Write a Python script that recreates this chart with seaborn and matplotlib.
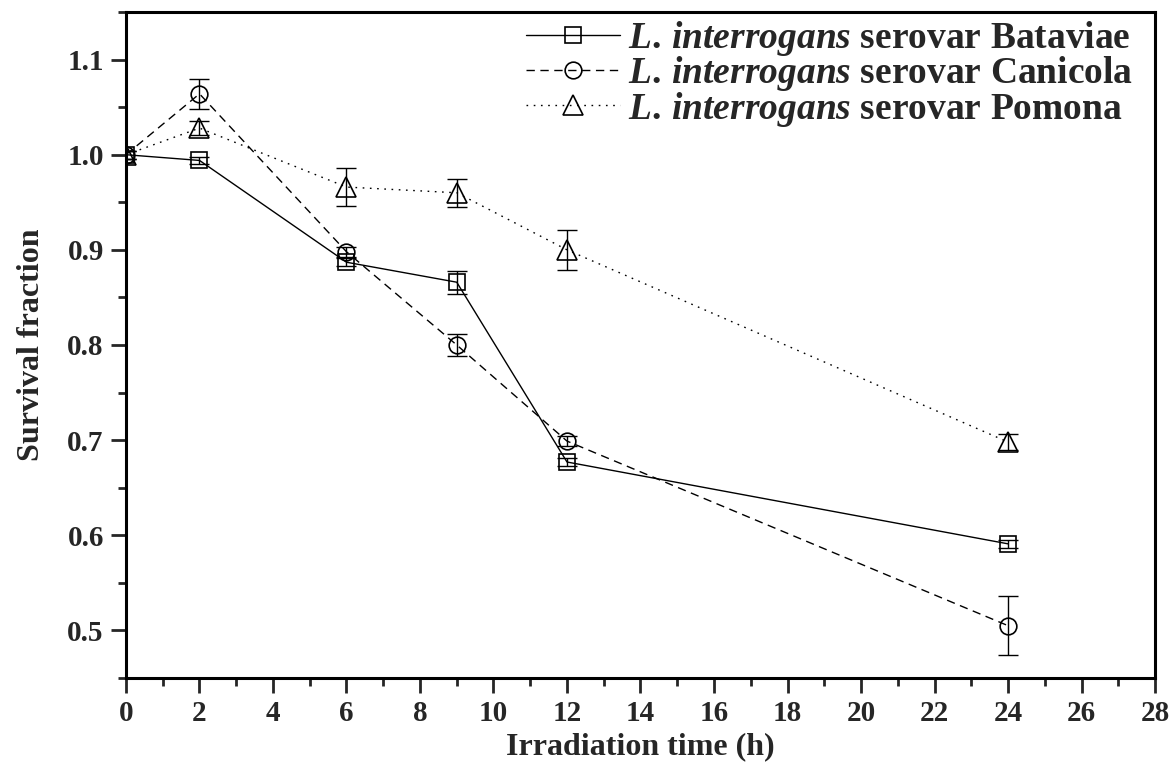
import matplotlib
matplotlib.use('Agg')
import matplotlib.pyplot as plt
import seaborn as sns
import numpy as np
import pandas as pd
from matplotlib.ticker import MultipleLocator

sns.set_theme(style="ticks")
plt.rcParams['font.family'] = ['Liberation Serif', 'DejaVu Serif']
plt.rcParams['font.weight'] = 'bold'
plt.rcParams['mathtext.fontset'] = 'custom'
plt.rcParams['mathtext.it'] = 'Liberation Serif:italic:bold'
plt.rcParams['mathtext.rm'] = 'Liberation Serif:bold'

# dados
time_h = [0, 2, 6, 9, 12, 24]
bataviae = [1.000, 0.994, 0.887, 0.866, 0.677, 0.591]
bataviae_err = [0.004, 0.004, 0.004, 0.012, 0.004, 0.004]
canicola = [1.000, 1.064, 0.898, 0.800, 0.699, 0.505]
canicola_err = [0.004, 0.016, 0.005, 0.012, 0.005, 0.031]
pomona = [1.000, 1.028, 0.966, 0.960, 0.900, 0.698]
pomona_err = [0.004, 0.007, 0.020, 0.015, 0.021, 0.008]

labels = [r"$\mathit{L.\,interrogans}$ serovar Bataviae",
          r"$\mathit{L.\,interrogans}$ serovar Canicola",
          r"$\mathit{L.\,interrogans}$ serovar Pomona"]

series = [
    (bataviae, bataviae_err, 's', '-', 11),
    (canicola, canicola_err, 'o', (0, (6, 4)), 12),
    (pomona, pomona_err, '^', (0, (1.2, 4)), 14),
]

fig = plt.figure(figsize=(11.72, 7.75), dpi=100)
ax = fig.add_axes([0.1075, 0.1252, 0.878, 0.8593])

for (vals, err, mk, ls, ms), lab in zip(series, labels):
    ax.errorbar(time_h, vals, yerr=err, fmt='none', ecolor='black',
                elinewidth=1.0, capsize=7, capthick=1.0, zorder=2)
    df = pd.DataFrame({'t': time_h, 'v': vals})
    sns.lineplot(data=df, x='t', y='v', ax=ax, color='black', linewidth=1.0,
                 linestyle=ls, marker=mk, markersize=ms, markerfacecolor='none',
                 markeredgecolor='black', markeredgewidth=1.2, label=lab, zorder=3)

ax.set_xlim(0, 28)
ax.xaxis.set_major_locator(MultipleLocator(2))
ax.xaxis.set_minor_locator(MultipleLocator(1))
ax.set_yticks(np.arange(0.5, 1.11, 0.1))
ax.yaxis.set_minor_locator(MultipleLocator(0.05))
ax.set_ylim(0.45, 1.15)

ax.tick_params(which='major', direction='out', length=11, width=2, labelsize=21, pad=5)
ax.tick_params(which='minor', direction='out', length=5.5, width=2)
ax.tick_params(top=False, right=False, which='both')
for sp in ax.spines.values():
    sp.set_linewidth(2.2)
    sp.set_color('black')
for lb in ax.get_xticklabels() + ax.get_yticklabels():
    lb.set_fontweight('bold')

ax.set_xlabel("Irradiation time (h)", fontsize=23, fontweight='bold')
ax.xaxis.set_label_coords(0.5, -0.082)
ax.set_ylabel("Survival fraction", fontsize=23, fontweight='bold')
ax.yaxis.set_label_coords(-0.078, 0.5)

leg = ax.legend(loc='upper right', frameon=False, fontsize=27, handlelength=2.5,
                handletextpad=0.2, labelspacing=-0.1, borderaxespad=0.0, borderpad=0.1,
                bbox_to_anchor=(0.982, 0.995))

plt.savefig('out.png', dpi=100)
plt.close()
